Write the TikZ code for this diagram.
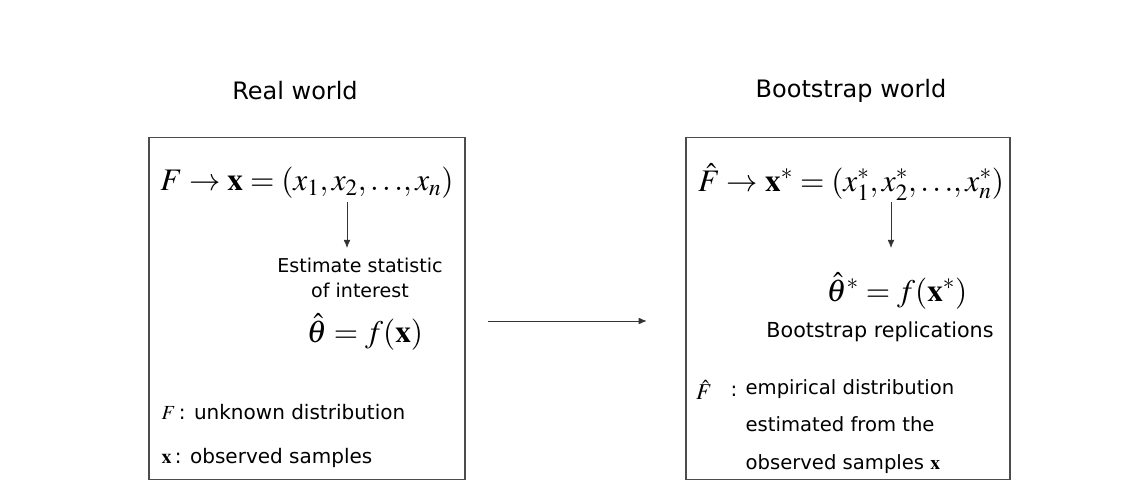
\documentclass[tikz,border=0pt]{standalone}
\usepackage{amsmath}
\usepackage{mathptmx}
\usepackage[no-math]{fontspec}
\setmainfont{DejaVu Sans}
\usetikzlibrary{arrows.meta,positioning,calc}

\begin{document}
\begin{tikzpicture}[
    x=0.75pt, y=-0.75pt,
    worldbox/.style={
        draw=black!70,
        line width=0.9pt,
        minimum width=237pt,
        minimum height=256pt,
        inner sep=0pt
    },
    titletext/.style={font=\fontsize{18}{22}\selectfont},
    bodytext/.style={font=\fontsize{14.3}{18.75}\selectfont, inner sep=0pt},
    notetext/.style={font=\fontsize{15}{18}\selectfont, inner sep=1pt},
    mathtext/.style={font=\fontsize{23.5}{26}\selectfont, inner sep=0pt},
    flow/.style={-{Latex[length=6pt,width=5pt]}, line width=0.6pt, draw=black!80}
]
    % Page frame
    \useasboundingbox (0,0) rectangle (1143,481);

    % Titles
    \node[titletext] (realtitle) at (295,91) {Real world};
    \node[titletext] (boottitle) at (851,91) {Bootstrap world};

    % Boxes
    \node[worldbox] (lbox) at (307,308.5) {};
    \node[worldbox, minimum width=243pt] (rbox) at (848,308.5) {};

    % Real world contents
    \node[mathtext] (lform) at (307,183) {$F\rightarrow\mathbf{x}=(x_1,x_2,{\ldots},x_n)$};
    \coordinate (ldrop) at (347,202);
    \node[bodytext, align=center, anchor=north] (est) at (360,258) {Estimate statistic\\of interest};
    \node[mathtext] (theta) at (365,332) {$\hat{\theta}=f(\mathbf{x})$};
    \node[notetext, anchor=west] (fnote) at (160,412) {$F$\,: unknown distribution};
    \node[notetext, anchor=west] (xnote) at (160,458) {$\mathbf{x}$\,: observed samples};

    % Bootstrap world contents
    \node[mathtext] (rform) at (851,182) {$\hat{F}\rightarrow\mathbf{x}^*=(x_1^*,x_2^*,{\ldots},x_n^*)$};
    \coordinate (rdrop) at (891,202);
    \node[mathtext] (thetastar) at (897,291) {$\hat{\theta}^*=f(\mathbf{x}^*)$};
    \node[bodytext, font=\fontsize{15.5}{18}\selectfont] (reps) at (880,332) {Bootstrap replications};
    \node[notetext, font=\fontsize{17}{18}\selectfont] (fhat) at (704,390) {$\hat{F}$};
    \node[notetext, anchor=east] (fcolon) at (739,391) {:};
    \node[notetext, align=left, anchor=north west, font=\fontsize{14.7}{28}\selectfont] (fdesc) at (744,378) {empirical distribution\\estimated from the\\observed samples $\mathbf{x}$};

    % Arrows
    \coordinate (mid) at (0,321);
    \draw[flow] (ldrop) -- (ldrop |- 0,248);
    \draw[flow] (rdrop) -- (rdrop |- 0,248);
    \draw[flow, shorten <=17pt, shorten >=29pt] (lbox.east |- mid) -- (rbox.west |- mid);
\end{tikzpicture}
\end{document}
